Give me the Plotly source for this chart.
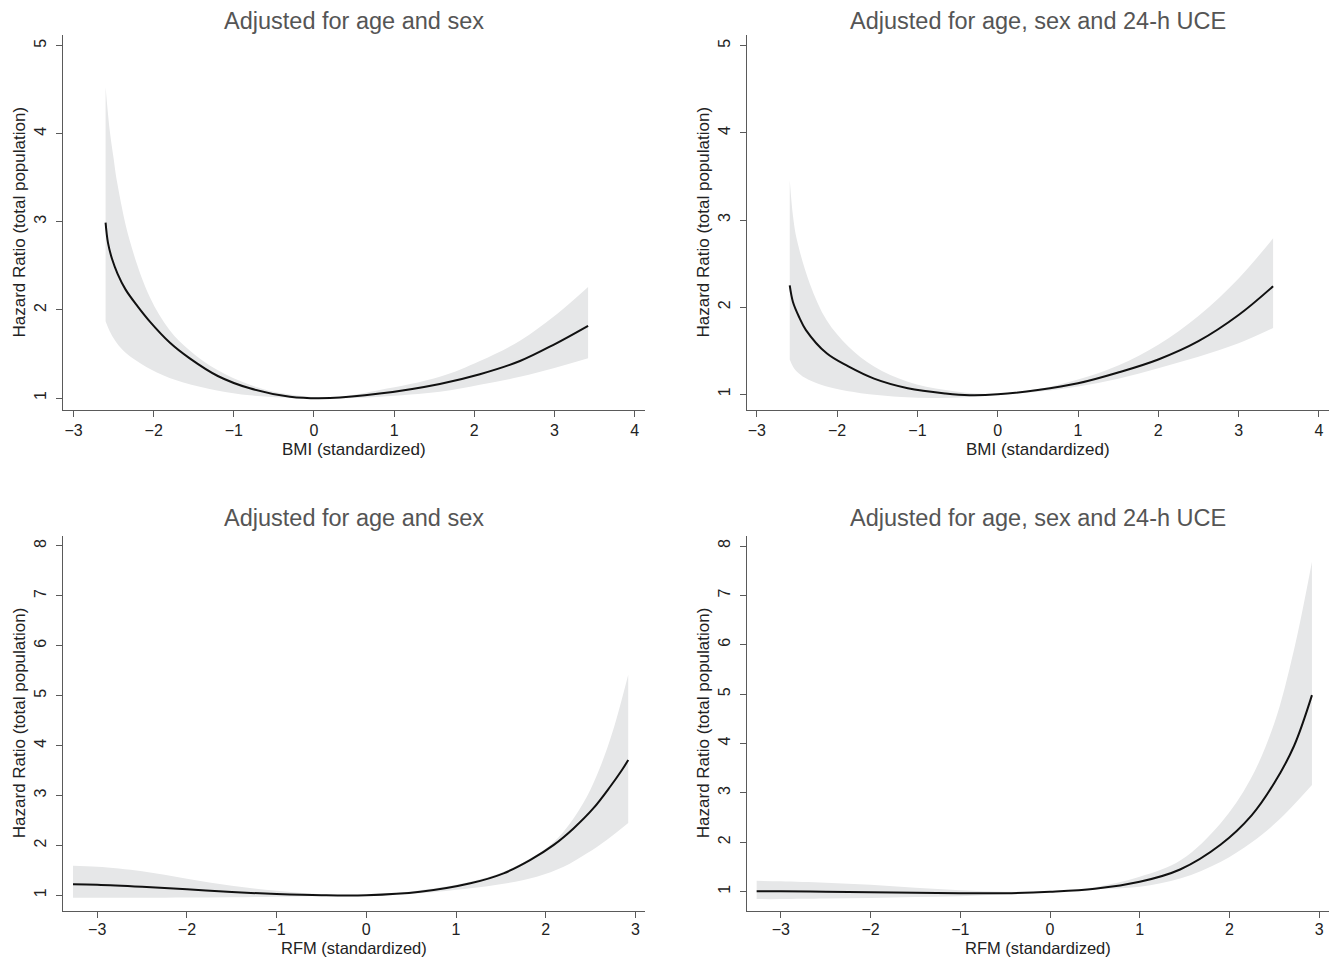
import plotly.graph_objects as go

# ---------------- data ----------------
# Top-left: BMI, adjusted for age and sex
bmi_as_x = [-2.6, -2.57, -2.52, -2.45, -2.35, -2.2, -2.05, -1.8, -1.55, -1.2, -0.8,
            -0.3, 0.2, 0.82, 1.57, 2.07, 2.57, 3.0, 3.42]
bmi_as_hr = [2.99, 2.76, 2.58, 2.41, 2.23, 2.04, 1.87, 1.63, 1.45, 1.25, 1.11,
             1.015, 1.0, 1.05, 1.16, 1.27, 1.42, 1.61, 1.82]
bmi_as_hi_x = [-2.6, -2.55, -2.5, -2.46, -2.3, -2.05, -1.8, -1.55, -1.21, -0.8, -0.38,
               0.2, 0.82, 1.57, 2.07, 2.57, 3.0, 3.42]
bmi_as_hi = [4.53, 4.05, 3.72, 3.47, 2.79, 2.15, 1.77, 1.54, 1.32, 1.15, 1.05,
             1.005, 1.09, 1.24, 1.42, 1.65, 1.93, 2.26]
bmi_as_lo_x = [-2.6, -2.55, -2.48, -2.38, -2.21, -1.96, -1.63, -1.21, -0.8, -0.38,
               0.2, 0.82, 1.57, 2.07, 2.57, 3.0, 3.42]
bmi_as_lo = [1.87, 1.76, 1.65, 1.54, 1.42, 1.29, 1.175, 1.085, 1.03, 1.005,
             0.995, 1.015, 1.07, 1.15, 1.24, 1.34, 1.45]

# Top-right: BMI, adjusted for age, sex and 24-h UCE
bmi_uce_x = [-2.59, -2.55, -2.47, -2.39, -2.13, -1.86, -1.54, -1.12, -0.65, -0.35,
             0.0, 0.5, 1.0, 1.5, 2.0, 2.5, 3.0, 3.43]
bmi_uce_hr = [2.25, 2.06, 1.88, 1.74, 1.47, 1.32, 1.18, 1.07, 1.01, 0.99,
              1.0, 1.05, 1.126, 1.25, 1.40, 1.61, 1.91, 2.24]
bmi_uce_hi_x = [-2.59, -2.55, -2.5, -2.34, -2.13, -1.86, -1.54, -1.12, -0.65, -0.12,
                0.5, 1.0, 1.5, 2.0, 2.5, 3.0, 3.43]
bmi_uce_hi = [3.46, 3.05, 2.77, 2.27, 1.85, 1.55, 1.32, 1.145, 1.05, 1.005,
              1.06, 1.17, 1.33, 1.57, 1.90, 2.33, 2.79]
bmi_uce_lo_x = [-2.59, -2.55, -2.5, -2.4, -2.2, -2.0, -1.6, -1.2, -0.8, -0.4,
                0.0, 0.5, 1.0, 1.5, 2.0, 2.5, 3.0, 3.43]
bmi_uce_lo = [1.40, 1.32, 1.26, 1.19, 1.11, 1.06, 1.0, 0.97, 0.958, 0.965,
              0.995, 1.03, 1.09, 1.18, 1.30, 1.43, 1.585, 1.76]

# Bottom-left: RFM, adjusted for age and sex
rfm_as_x = [-3.27, -3.0, -2.5, -2.0, -1.5, -1.0, -0.5, 0.0, 0.6, 1.16, 1.53, 1.83,
            2.09, 2.31, 2.53, 2.72, 2.85, 2.92]
rfm_as_hr = [1.22, 1.21, 1.17, 1.12, 1.065, 1.025, 1.0, 1.0, 1.07, 1.24, 1.44, 1.71,
             2.01, 2.34, 2.74, 3.18, 3.51, 3.71]
rfm_as_hi_x = [-3.27, -3.0, -2.5, -2.0, -1.5, -1.0, -0.5, 0.0, 0.6, 1.16, 1.53, 1.83,
               2.09, 2.27, 2.46, 2.61, 2.75, 2.92]
rfm_as_hi = [1.59, 1.57, 1.48, 1.33, 1.19, 1.09, 1.02, 1.0, 1.10, 1.27, 1.47, 1.74,
             2.07, 2.44, 2.98, 3.58, 4.30, 5.42]
rfm_as_lo_x = [-3.27, -2.5, -2.0, -1.5, -1.0, -0.5, 0.0, 0.6, 1.16, 1.53, 1.90, 2.20,
               2.46, 2.68, 2.92]
rfm_as_lo = [0.95, 0.95, 0.955, 0.96, 0.97, 0.985, 1.0, 1.04, 1.14, 1.23, 1.37, 1.57,
             1.84, 2.11, 2.45]

# Bottom-right: RFM, adjusted for age, sex and 24-h UCE
rfm_uce_x = [-3.27, -3.0, -2.5, -2.0, -1.5, -1.0, -0.5, 0.0, 0.5, 1.0, 1.45, 1.9,
             2.25, 2.5, 2.72, 2.92]
rfm_uce_hr = [1.01, 1.01, 1.0, 0.99, 0.98, 0.97, 0.97, 1.0, 1.06, 1.20, 1.45, 1.95,
              2.55, 3.2, 3.95, 4.98]
rfm_uce_hi_x = [-3.27, -3.0, -2.5, -2.0, -1.5, -1.0, -0.5, 0.0, 0.5, 1.0, 1.46, 1.9,
                2.23, 2.5, 2.72, 2.92]
rfm_uce_hi = [1.22, 1.21, 1.18, 1.14, 1.08, 1.03, 1.0, 1.0, 1.09, 1.30, 1.64, 2.38,
              3.26, 4.41, 5.9, 7.68]
rfm_uce_lo_x = [-3.27, -3.0, -2.5, -2.0, -1.5, -1.0, -0.5, 0.0, 0.5, 1.0, 1.46, 1.9,
                2.25, 2.55, 2.92]
rfm_uce_lo = [0.85, 0.85, 0.86, 0.87, 0.89, 0.91, 0.95, 1.0, 1.05, 1.10, 1.27, 1.60,
              2.0, 2.45, 3.16]

titles = ["Adjusted for age and sex", "Adjusted for age, sex and 24-h UCE"]
xtitles = ["BMI (standardized)", "RFM (standardized)"]
ytitle = "Hazard Ratio (total population)"
bmi_xticks = [-3, -2, -1, 0, 1, 2, 3, 4]
bmi_yticks = [1, 2, 3, 4, 5]
rfm_xticks = [-3, -2, -1, 0, 1, 2, 3]
rfm_yticks = [1, 2, 3, 4, 5, 6, 7, 8]

# ---------------- figure ----------------
W, H = 1334, 957
FONT = "Liberation Sans, Arial, sans-serif"
AX = "#5a5a5a"
BAND = "#e6e7e8"

panels = [
    # (curve, upper, lower, axis id, x px span, y px span, x range, y range, ticks)
    ((bmi_as_x, bmi_as_hr), (bmi_as_hi_x, bmi_as_hi), (bmi_as_lo_x, bmi_as_lo),
     1, (62.7, 645), (35, 410), [-3.135, 4.13], [0.864, 5.12], bmi_xticks, bmi_yticks),
    ((bmi_uce_x, bmi_uce_hr), (bmi_uce_hi_x, bmi_uce_hi), (bmi_uce_lo_x, bmi_uce_lo),
     2, (746.7, 1329), (35, 410), [-3.126, 4.126], [0.82, 5.123], bmi_xticks, bmi_yticks),
    ((rfm_as_x, rfm_as_hr), (rfm_as_hi_x, rfm_as_hi), (rfm_as_lo_x, rfm_as_lo),
     3, (62.7, 645), (535.7, 910.7), [-3.385, 3.107], [0.691, 8.206], rfm_xticks, rfm_yticks),
    ((rfm_uce_x, rfm_uce_hr), (rfm_uce_hi_x, rfm_uce_hi), (rfm_uce_lo_x, rfm_uce_lo),
     4, (746.7, 1329), (535.7, 910.7), [-3.381, 3.11], [0.615, 8.209], rfm_xticks, rfm_yticks),
]

fig = go.Figure()
annotations = []
for (cx_, cy_), (ux, uy), (lx, ly), k, xs, ys, xr, yr, xt, yt in panels:
    xa = "x" if k == 1 else f"x{k}"
    ya = "y" if k == 1 else f"y{k}"
    row = 0 if k <= 2 else 1
    col = (k - 1) % 2
    fig.add_trace(go.Scatter(x=lx, y=ly, mode="lines", xaxis=xa, yaxis=ya,
                             line=dict(width=0, shape="spline", color=BAND),
                             hoverinfo="skip", showlegend=False))
    fig.add_trace(go.Scatter(x=ux, y=uy, mode="lines", xaxis=xa, yaxis=ya,
                             fill="tonexty", fillcolor=BAND,
                             line=dict(width=0, shape="spline", color=BAND),
                             hoverinfo="skip", showlegend=False))
    fig.add_trace(go.Scatter(x=cx_, y=cy_, mode="lines", xaxis=xa, yaxis=ya,
                             line=dict(width=2, shape="spline", color="#111111"),
                             showlegend=False))
    xdom = [xs[0] / W, xs[1] / W]
    ydom = [(H - ys[1]) / H, (H - ys[0]) / H]
    common = dict(showgrid=False, zeroline=False, showline=True, linecolor=AX,
                  linewidth=1.3, ticks="outside", ticklen=6, tickwidth=1.3,
                  tickcolor=AX, fixedrange=True,
                  tickfont=dict(size=16, color="#222222", family=FONT))
    axx = dict(domain=xdom, range=xr, anchor=ya, tickvals=xt,
               ticklabelstandoff=(0 if row == 0 else -2), **common)
    axy = dict(domain=ydom, range=yr, anchor=xa, tickvals=yt, tickangle=-90,
               ticklabelstandoff=3, **common)
    fig.update_layout(**{("xaxis" if k == 1 else f"xaxis{k}"): axx,
                         ("yaxis" if k == 1 else f"yaxis{k}"): axy})
    cx = (xs[0] + xs[1]) / 2 / W
    annotations.append(dict(text=titles[col], x=cx, xref="paper", xanchor="center",
                            y=1 - (21 if row == 0 else 518) / H, yref="paper",
                            yanchor="middle", showarrow=False,
                            font=dict(size=23.5, color="#555555", family=FONT)))
    annotations.append(dict(text=xtitles[row], x=cx, xref="paper", xanchor="center",
                            y=1 - (449 if row == 0 else 947.5) / H, yref="paper",
                            yanchor="middle", showarrow=False,
                            font=dict(size=(17 if row == 0 else 16.5),
                                      color="#222222", family=FONT)))
    annotations.append(dict(text=ytitle, x=(19 if col == 0 else 703) / W, xref="paper",
                            xanchor="center",
                            y=1 - (ys[0] + ys[1]) / 2 / H, yref="paper",
                            yanchor="middle", textangle=-90, showarrow=False,
                            font=dict(size=17, color="#222222", family=FONT)))

fig.update_layout(width=W, height=H, margin=dict(l=0, r=0, t=0, b=0),
                  paper_bgcolor="white", plot_bgcolor="white",
                  annotations=annotations, showlegend=False,
                  font=dict(family=FONT))

fig.write_html("out.html", config={"displayModeBar": False},
               post_script="document.body.style.margin='0';"
                           "document.body.style.overflow='hidden';")
